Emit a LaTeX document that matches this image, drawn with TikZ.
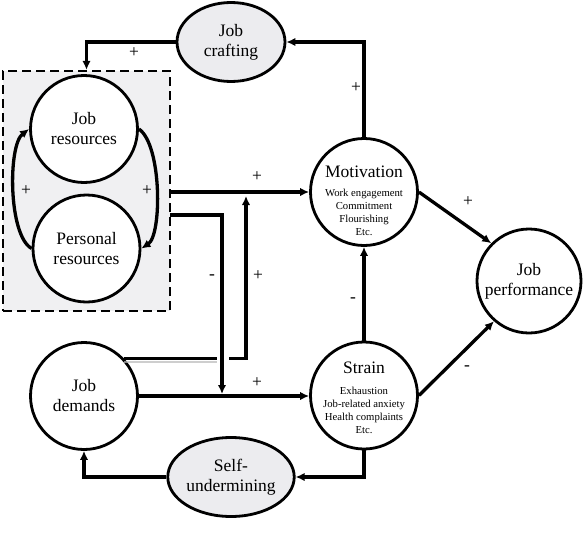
\documentclass[tikz,border=0pt]{standalone}
\usepackage{fontspec}
\setmainfont{Liberation Serif}
\usetikzlibrary{shapes.geometric,arrows.meta}
\definecolor{boxfill}{HTML}{F0F0F2}
\definecolor{ellfill}{HTML}{ECECEF}
\begin{document}
\begin{tikzpicture}[x=1pt,y=-1pt,
  big/.style={font=\fontsize{17.5}{20}\selectfont},
  circ/.style={circle, draw, line width=2.8pt, fill=white, minimum size=107pt, inner sep=0pt, align=center, big},
  ell/.style={ellipse, draw, line width=2.8pt, fill=ellfill, minimum width=108pt, minimum height=79pt, inner sep=0pt, align=center, big},
  arr/.style={line width=3.3pt, -{Latex[length=9pt,width=8.5pt]}},
  ln/.style={line width=3.3pt},
  sgn/.style={font=\fontsize{17.5}{17.5}\selectfont, inner sep=0pt},
  small/.style={align=center, font=\fontsize{10.7}{13}\selectfont, inner sep=0pt},
  dbox/.style={draw, line width=2.3pt, dash pattern=on 9pt off 5pt, fill=boxfill, minimum width=167pt, minimum height=240pt, inner sep=0pt}
]
\useasboundingbox (0,0) rectangle (587,541);

% group box
\node[dbox] (box) at (86.5,191) {};

% nodes
\node[circ] (jr) at (84,129) {Job\\resources};
\node[circ] (pr) at (86.5,248.5) {Personal\\resources};
\node[circ] (jd) at (84,396) {Job\\demands};
\node[circ] (mot) at (364,192) {};
\node[big, inner sep=0pt] (motT) at (364,172) {Motivation};
\node[small] (motL) at (364,212.5) {Work engagement\\Commitment\\Flourishing\\Etc.};
\node[circ] (str) at (364,395.5) {};
\node[big, inner sep=0pt] (strT) at (364,367.5) {Strain};
\node[small] (strL) at (364,410.5) {Exhaustion\\Job-related anxiety\\Health complaints\\Etc.};
\node[circ, minimum size=104pt] (perf) at (529,281) {Job\\performance};
\node[ell] (jc) at (231,42) {Job\\crafting};
\node[ell] (su) at (231,477) {Self-\\undermining};

% helper coordinates
\coordinate (b2) at (170,215);
\coordinate (b2e) at (222,394);
\coordinate (g1) at (217,359);
\coordinate (g2) at (229,359);
\coordinate (m2) at (246,196);

% connectors
\draw[arr] (box.east |- mot.west) -- (mot.west);
\draw[gray!55, line width=2pt, opacity=0.7] ([yshift=-3pt]jd.43) -- ([yshift=-3pt]jd.43 -| g1);
\draw[ln] (jd.43) -- (jd.43 -| g1);
\draw[arr] (jd.43 -| g2) -| (m2);
\draw[arr] (jd.east) -- (jd.east -| str.west);
\draw[arr] (b2) -| (b2e);
\draw[arr] (str.north) -- (mot.south);
\draw[arr] (mot.east) -- (perf.135);
\draw[arr] (str.east) -- (perf.229);
\draw[arr] (mot.north) |- (jc.east);
\draw[arr] (jc.west) -| (box.north);
\draw[arr] (str.south) |- (su.east);
\draw[arr] (su.west) -| (jd.south);
\draw[arr] (pr.west) .. controls (8,235) and (8,145) .. (jr.west);
\draw[arr] (jr.east) .. controls (162,145) and (162,235) .. (pr.east);

% signs
\node[sgn] (s1) at (134,53) {+};
\node[sgn] (s2) at (26,191) {+};
\node[sgn] (s3) at (147,191) {+};
\node[sgn] (s4) at (257,177) {+};
\node[sgn] (s5) at (212,277) {-};
\node[sgn] (s6) at (258,276) {+};
\node[sgn] (s7) at (257,383) {+};
\node[sgn] (s8) at (353,300) {-};
\node[sgn] (s9) at (468,202) {+};
\node[sgn] (s10) at (467,368) {-};
\node[sgn] (s11) at (356,88) {+};
\end{tikzpicture}
\end{document}
